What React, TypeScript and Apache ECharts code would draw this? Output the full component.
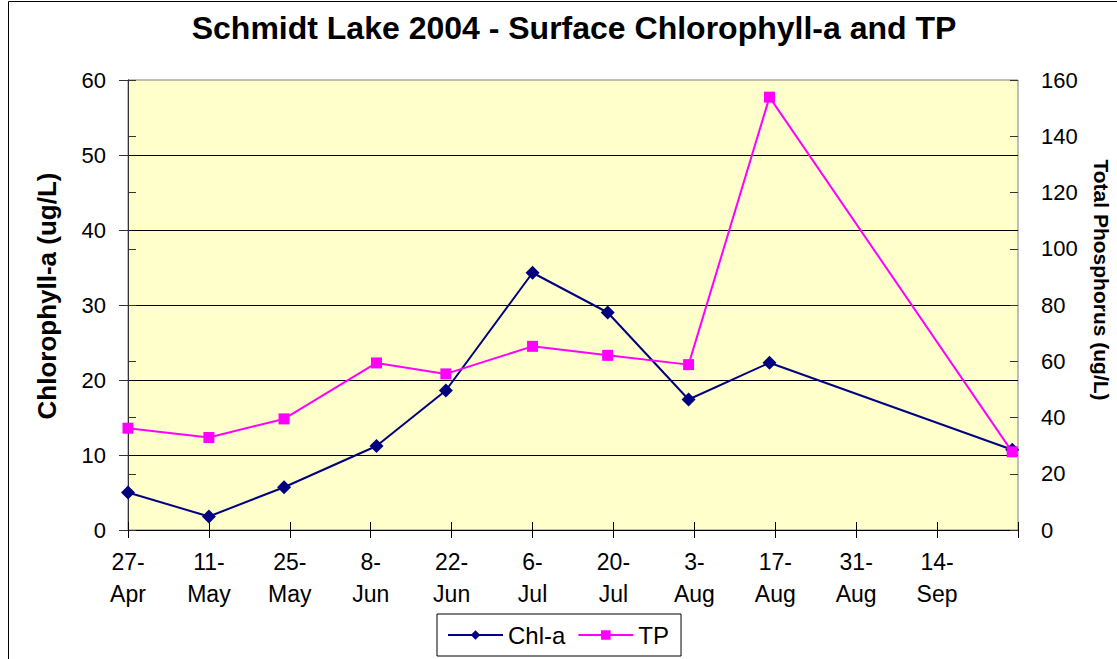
import React, { useEffect, useRef } from "react";
import * as echarts from "echarts";

// ---- data ----
const startDate = "2004-04-27";
const axisDays = 154; // 27-Apr .. 28-Sep
const tickDays = 14;
const sampleDates = [
  "2004-04-27",
  "2004-05-11",
  "2004-05-24",
  "2004-06-09",
  "2004-06-21",
  "2004-07-06",
  "2004-07-19",
  "2004-08-02",
  "2004-08-16",
  "2004-09-27",
];
const chlA = [5.0, 1.8, 5.7, 11.2, 18.6, 34.3, 29.0, 17.4, 22.3, 10.7];
const totalP = [36.2, 32.9, 39.5, 59.4, 55.5, 65.3, 62.1, 58.8, 153.9, 27.8];
const tickLabels = [
  "27-\nApr",
  "11-\nMay",
  "25-\nMay",
  "8-\nJun",
  "22-\nJun",
  "6-\nJul",
  "20-\nJul",
  "3-\nAug",
  "17-\nAug",
  "31-\nAug",
  "14-\nSep",
];

const FONT = "'Liberation Sans', Arial, sans-serif";

const dayOffset = (d: string) =>
  Math.round((Date.parse(d) - Date.parse(startDate)) / 86400000);

export default function App() {
  const ref = useRef<HTMLDivElement>(null);

  useEffect(() => {
    if (!ref.current) return;
    const chart = echarts.init(ref.current, undefined, { renderer: "svg" });

    const xs = sampleDates.map(dayOffset);
    const chlData = xs.map((x, i) => [x, chlA[i]]);
    const tpData = xs.map((x, i) => [x, totalP[i]]);

    const xCommon = {
      type: "value" as const,
      min: 0,
      max: axisDays,
      interval: tickDays,
      gridIndex: 0,
      position: "bottom" as const,
      splitLine: { show: false },
    };

    const option: any = {
      animation: false,
      backgroundColor: "#ffffff",
      textStyle: { fontFamily: FONT },
      title: {
        text: "Schmidt Lake 2004 - Surface Chlorophyll-a and TP",
        left: 569,
        textAlign: "center",
        top: 7,
        textStyle: {
          fontFamily: FONT,
          fontSize: 32,
          fontWeight: "bold",
          color: "#000",
        },
      },
      grid: {
        left: 128,
        top: 80,
        width: 890,
        height: 450,
        show: true,
        backgroundColor: "#FFFFCC",
        borderColor: "#808080",
        borderWidth: 1,
        containLabel: false,
      },
      legend: {
        left: 437,
        top: 614,
        orient: "horizontal",
        padding: [9, 12, 9, 10],
        itemGap: 12,
        itemWidth: 55,
        itemHeight: 12,
        borderColor: "#000",
        borderWidth: 1,
        backgroundColor: "#fff",
        textStyle: { fontFamily: FONT, fontSize: 24, color: "#000" },
        data: ["Chl-a", "TP"],
      },
      xAxis: [
        {
          ...xCommon,
          axisLine: { show: true, lineStyle: { color: "#000", width: 1 } },
          axisTick: { show: true, length: 8, lineStyle: { color: "#000" } },
          axisLabel: {
            show: true,
            margin: 16,
            fontFamily: FONT,
            fontSize: 23,
            lineHeight: 32,
            color: "#000",
            formatter: (v: number) => {
              const i = Math.round(v / tickDays);
              return i < tickLabels.length ? tickLabels[i] : "";
            },
          },
        },
        {
          ...xCommon,
          axisLine: { show: false },
          axisTick: {
            show: true,
            inside: true,
            length: 8,
            lineStyle: { color: "#000" },
          },
          axisLabel: { show: false },
        },
      ],
      yAxis: [
        {
          type: "value",
          min: 0,
          max: 60,
          interval: 10,
          position: "left",
          axisLine: { show: true, lineStyle: { color: "#333", width: 1 } },
          axisTick: { show: true, length: 9, lineStyle: { color: "#333" } },
          axisLabel: {
            margin: 22,
            fontFamily: FONT,
            fontSize: 22,
            color: "#000",
          },
          splitLine: {
            show: true,
            showMinLine: false,
            showMaxLine: false,
            lineStyle: { color: "#000", width: 1 },
          },
        },
        {
          type: "value",
          min: 0,
          max: 160,
          interval: 20,
          position: "right",
          axisLine: { show: true, lineStyle: { color: "#333", width: 1 } },
          axisTick: { show: true, length: 8, lineStyle: { color: "#333" } },
          axisLabel: {
            margin: 23,
            fontFamily: FONT,
            fontSize: 22,
            color: "#000",
          },
          splitLine: { show: false },
        },
        {
          type: "value",
          min: 0,
          max: 160,
          interval: 20,
          position: "right",
          axisLine: { show: false },
          axisTick: {
            show: true,
            inside: true,
            length: 8,
            lineStyle: { color: "#333" },
          },
          axisLabel: { show: false },
          splitLine: { show: false },
        },
      ],
      series: [
        {
          name: "Chl-a",
          type: "line",
          xAxisIndex: 0,
          yAxisIndex: 0,
          data: chlData,
          symbol: "diamond",
          symbolSize: 14,
          color: "#000080",
          itemStyle: { color: "#000080" },
          lineStyle: { color: "#000080", width: 2 },
        },
        {
          name: "TP",
          type: "line",
          xAxisIndex: 0,
          yAxisIndex: 1,
          data: tpData,
          symbol: "rect",
          symbolSize: 11,
          color: "#FF00FF",
          itemStyle: { color: "#FF00FF" },
          lineStyle: { color: "#FF00FF", width: 2 },
        },
      ],
      graphic: [
        {
          type: "rect",
          silent: true,
          shape: { x: 8.5, y: 1.5, width: 1200, height: 800 },
          style: { fill: "none", stroke: "#000", lineWidth: 1 },
          z: 0,
        },
        {
          type: "text",
          x: 47,
          y: 296,
          rotation: Math.PI / 2,
          style: {
            text: "Chlorophyll-a (ug/L)",
            fontFamily: FONT,
            fontSize: 26,
            fontWeight: "bold",
            fill: "#000",
            textAlign: "center",
            textVerticalAlign: "middle",
          },
        },
        {
          type: "text",
          x: 1101,
          y: 280,
          rotation: -Math.PI / 2,
          style: {
            text: "Total Phosphorus (ug/L)",
            fontFamily: FONT,
            fontSize: 21,
            fontWeight: "bold",
            fill: "#000",
            textAlign: "center",
            textVerticalAlign: "middle",
          },
        },
      ],
    };

    chart.setOption(option);
    return () => chart.dispose();
  }, []);

  return (
    <div
      ref={ref}
      style={{
        position: "fixed",
        left: 0,
        top: 0,
        width: 1117,
        height: 659,
        background: "#fff",
      }}
    />
  );
}
